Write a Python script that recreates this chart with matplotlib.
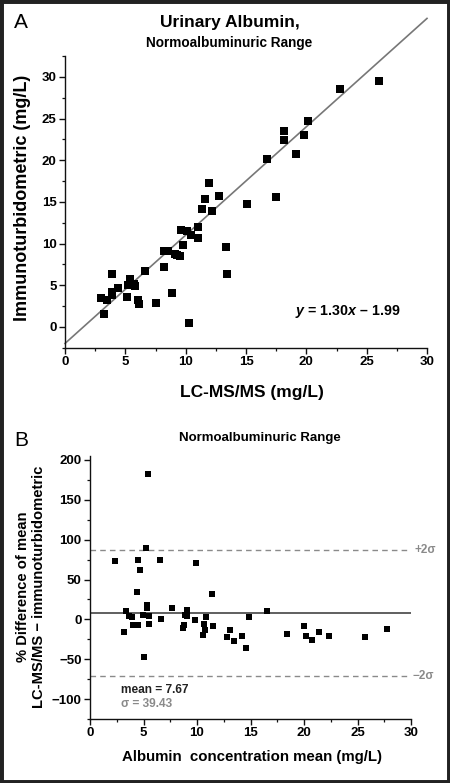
import matplotlib
matplotlib.use("Agg")
import matplotlib.pyplot as plt
from matplotlib.patches import Rectangle
from matplotlib.ticker import MultipleLocator

plt.rcParams['font.family'] = ['Liberation Sans', 'DejaVu Sans']
plt.rcParams['mathtext.fontset'] = 'custom'
plt.rcParams['mathtext.it'] = 'Liberation Sans:italic:bold'
plt.rcParams['mathtext.rm'] = 'Liberation Sans:bold'

# Panel A data: LC-MS/MS vs immunoturbidometric (mg/L)
lcms = [26.06, 22.8, 20.1, 18.13, 19.8, 18.18, 19.18, 16.7, 17.5, 11.91,
        11.61, 12.8, 11.39, 12.2, 15.1, 11.0, 11.0, 9.59, 10.09, 10.42,
        9.81, 13.32, 8.18, 8.54, 9.1, 9.26, 9.56, 8.24, 6.6, 13.4,
        3.9, 5.39, 5.2, 5.75, 5.8, 4.37, 3.9, 3.92, 2.99, 3.48,
        5.12, 6.05, 6.1, 7.57, 8.9, 3.2, 10.28]
immuno = [29.5, 28.6, 24.7, 23.5, 23.0, 22.4, 20.8, 20.1, 15.6, 17.3,
          15.3, 15.7, 14.2, 13.9, 14.7, 12.0, 10.7, 11.6, 11.5, 11.0,
          9.8, 9.6, 9.1, 9.1, 8.7, 8.6, 8.5, 7.2, 6.7, 6.4,
          6.3, 5.7, 5.0, 5.2, 4.9, 4.7, 4.2, 3.8, 3.5, 3.2,
          3.6, 3.2, 2.8, 2.9, 4.1, 1.5, 0.5]
slope, intercept = 1.30, -1.99

# Panel B data: Bland-Altman style % difference
bmean = [5.42, 2.37, 5.23, 4.45, 4.64, 6.51, 9.91, 4.36, 11.43, 5.33,
         5.36, 3.36, 7.66, 9.04, 16.54, 4.98, 5.51, 3.68, 3.9, 8.88,
         9.04, 6.64, 9.81, 10.84, 14.89, 3.21, 4.05, 4.52, 5.55, 8.66,
         8.82, 10.68, 10.78, 10.59, 11.53, 13.08, 12.77, 13.46, 14.24, 14.58,
         18.38, 19.97, 20.2, 20.78, 21.37, 22.37, 25.67, 27.79, 5.08]
bdiff = [181.9, 73.0, 89.9, 74.3, 62.2, 74.0, 70.6, 34.5, 32.4, 18.5,
         14.2, 10.1, 14.9, 11.8, 11.0, 5.9, 4.7, 4.7, 2.5, 5.9,
         3.8, 0.6, -0.2, 3.0, 2.5, -16.1, -7.5, -7.1, -5.8, -10.9,
         -6.8, -5.9, -13.3, -19.2, -8.9, -13.4, -21.8, -27.7, -20.6, -36.3,
         -18.4, -8.3, -21.1, -26.0, -15.3, -20.6, -22.6, -12.6, -47.4]
mean_val = 7.67
sigma_val = 39.43

W, H = 450, 783
fig = plt.figure(figsize=(4.5, 7.83), dpi=100)
fig.patch.set_facecolor('white')

def fx(px):
    return px / W

def fy(py):
    return 1 - py / H

# ---------------- Panel A ----------------
axA = fig.add_axes([fx(65), fy(347.7), fx(427 - 65), (347.7 - 56) / H])
axA.scatter(lcms, immuno, marker='s', s=30, color='black', zorder=3, linewidths=0)
xs = [0, 30]
axA.plot(xs, [slope * v + intercept for v in xs], color='#777777', lw=1.2,
         clip_on=False, zorder=2)
axA.set_xlim(0, 30)
axA.set_ylim(-2.5, 32.5)
axA.xaxis.set_major_locator(MultipleLocator(5))
axA.xaxis.set_minor_locator(MultipleLocator(2.5))
axA.yaxis.set_major_locator(MultipleLocator(5))
axA.yaxis.set_minor_locator(MultipleLocator(2.5))
axA.text(0.78, 0.124, r'$y$ = 1.30$x$ \u2013 1.99'.replace('\\u2013', '\u2013'),
         transform=axA.transAxes, ha='center', va='center',
         fontsize=10.3, fontweight='bold')

# ---------------- Panel B ----------------
axB = fig.add_axes([fx(90), fy(719), fx(411 - 90), (719 - 456) / H])
axB.scatter(bmean, bdiff, marker='s', s=17, color='black', zorder=3, linewidths=0)
axB.plot([0, 30], [mean_val, mean_val], color='#444444', lw=1.2, zorder=2)
axB.plot([0, 30], [mean_val + 2 * sigma_val] * 2, color='#8a8a8a', lw=1.0,
         ls=(0, (4, 3)), zorder=2)
axB.plot([0, 30], [mean_val - 2 * sigma_val] * 2, color='#8a8a8a', lw=1.0,
         ls=(0, (4, 3)), zorder=2)
axB.set_xlim(0, 30)
axB.set_ylim(-125, 205)
axB.xaxis.set_major_locator(MultipleLocator(5))
axB.xaxis.set_minor_locator(MultipleLocator(2.5))
axB.yaxis.set_major_locator(MultipleLocator(50))
axB.yaxis.set_minor_locator(MultipleLocator(25))
axB.text(30.3, mean_val + 2 * sigma_val, '+2\u03c3', color='#8a8a8a', fontsize=8.5,
         fontweight='bold', ha='left', va='center')
axB.text(30.1, mean_val - 2 * sigma_val, '\u22122\u03c3', color='#8a8a8a', fontsize=8.5,
         fontweight='bold', ha='left', va='center')
axB.text(2.9, -88.5, 'mean = 7.67', color='#222222', fontsize=8.6,
         fontweight='bold', ha='left', va='center')
axB.text(2.9, -106.5, '\u03c3 = 39.43', color='#8a8a8a', fontsize=8.6,
         fontweight='bold', ha='left', va='center')

for ax in (axA, axB):
    for s in ('top', 'right'):
        ax.spines[s].set_visible(False)
    for s in ('left', 'bottom'):
        ax.spines[s].set_linewidth(1.0)
        ax.spines[s].set_color('#111111')
    ax.tick_params(which='major', direction='out', length=4, width=1.0,
                   labelsize=9.5, pad=2, color='#111111')
    ax.tick_params(which='minor', direction='out', length=2.5, width=0.9,
                   color='#111111')
    for lab in ax.get_xticklabels() + ax.get_yticklabels():
        lab.set_fontweight('bold')
    ax.set_facecolor('white')

axB.set_yticklabels(['\u2212100' if v == -100 else '\u221250' if v == -50 else str(int(v))
                     for v in axB.get_yticks()], fontweight='bold')

# ---------------- Figure texts ----------------
fig.text(fx(21), fy(23), 'A', fontsize=15, ha='center', va='center')
fig.text(fx(230), fy(23), 'Urinary Albumin,', fontsize=12.5, fontweight='bold',
         ha='center', va='center')
fig.text(fx(229.5), fy(43.5), 'Normoalbuminuric Range', fontsize=9.8,
         fontweight='bold', ha='center', va='center')
fig.text(fx(23), fy(198), 'Immunoturbidometric (mg/L)', fontsize=13,
         fontweight='bold', rotation=90, ha='center', va='center')
fig.text(fx(251.5), fy(392.7), 'LC-MS/MS (mg/L)', fontsize=12.5,
         fontweight='bold', ha='center', va='center')

fig.text(fx(21), fy(440), 'B', fontsize=15, ha='center', va='center')
fig.text(fx(259.5), fy(438), 'Normoalbuminuric Range', fontsize=9.5,
         fontweight='bold', ha='center', va='center')
fig.text(fx(31), fy(587), '% Difference of mean\nLC-MS/MS \u2212 immunoturbidometric',
         fontsize=10.6, fontweight='bold', rotation=90, ha='center', va='center',
         multialignment='center', linespacing=1.2)
fig.text(fx(252.5), fy(757), 'Albumin  concentration mean (mg/L)', fontsize=10.8,
         fontweight='bold', ha='center', va='center')

fig.patches.append(Rectangle((0, 0), 1, 1, transform=fig.transFigure, fill=False,
                             edgecolor='#222222', linewidth=5, zorder=10))

fig.savefig('out.png', dpi=100)
